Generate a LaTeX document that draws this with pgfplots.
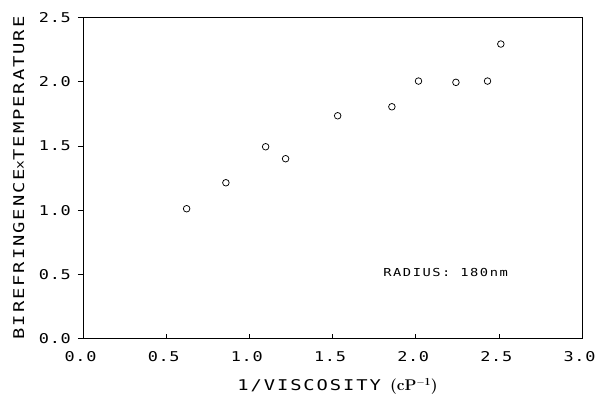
\documentclass[border=0pt]{standalone}
\usepackage{fontspec}
\usepackage{pgfplots}
\pgfplotsset{compat=1.18}
\newfontfamily\plotfont[FakeStretch=1.27, LetterSpace=13]{DejaVu Sans Mono}
\newfontfamily\tickfont[FakeStretch=1.25, LetterSpace=5]{DejaVu Sans Mono}
\newfontfamily\radfont[FakeStretch=1.25, LetterSpace=14]{DejaVu Sans Mono}
\begin{document}
\begin{tikzpicture}
\begin{axis}[
  at={(83bp,57.3bp)}, anchor=south west,
  scale only axis, width=499bp, height=321.4bp,
  xmin=0, xmax=3, ymin=0, ymax=2.5,
  xtick={0,0.5,...,3}, ytick={0,0.5,...,2.5},
  axis line style={line width=0.6pt},
  xtick pos=bottom, ytick pos=left,
  xtick style={line width=0.6pt, black},
  ytick style={line width=0.6pt, black},
  x tick label style={font=\fontsize{13.5bp}{14bp}\tickfont, anchor=north, inner sep=0pt, yshift=-13bp, xshift=-2.5bp},
  y tick label style={font=\fontsize{13.5bp}{14bp}\tickfont, anchor=east, inner sep=0pt, xshift=-7bp},
  major tick length=5bp,
  /pgfplots/xtick align=inside,
  /pgfplots/ytick align=outside,
  /pgf/number format/assume math mode=true,
  /pgf/number format/.cd, fixed, fixed zerofill, precision=1,
  /pgfplots/.cd,
  xlabel={1/VISCOSITY\hspace{9bp}{\normalfont\bfseries\fontsize{15.5bp}{16bp}\selectfont(cP$^{\mathbf{-1}}$)}},
  ylabel={BIREFRINGENCE\raisebox{0.5bp}{\fontsize{11.5bp}{12bp}\selectfont x}TEMPERATURE},
  every axis x label/.style={at={(axis description cs:0.51,-0.1627)}, anchor=base, font=\fontsize{14.8bp}{15bp}\plotfont},
  every axis y label/.style={at={(axis description cs:-0.118,0.5)}, anchor=base, rotate=90, font=\fontsize{14.8bp}{15bp}\plotfont},
]
\addplot[only marks, mark=o, mark size=3.3bp, mark options={line width=0.75pt, black}] coordinates {
(0.623,1.011)
(0.859,1.213)
(1.098,1.493)
(1.218,1.400)
(1.531,1.734)
(1.857,1.804)
(2.017,2.004)
(2.242,1.994)
(2.432,2.004)
(2.512,2.292)
};
\node[font=\fontsize{11bp}{12bp}\radfont, anchor=center] at (axis cs:2.18,0.513) {RADIUS: 180nm};
\end{axis}
\pgfresetboundingbox
\path[use as bounding box] (0,0) rectangle (595bp,396bp);
\end{tikzpicture}
\end{document}
